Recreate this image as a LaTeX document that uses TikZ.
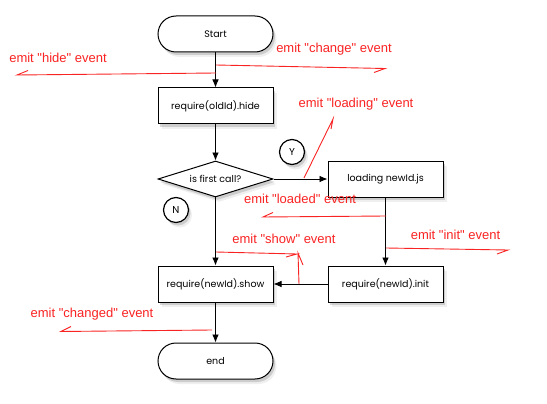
\documentclass[tikz,border=0pt]{standalone}
\usepackage{fontspec}
\setmainfont{Poppins}
\newfontfamily\notefont{Liberation Sans}
\usepackage{tikz}
\usetikzlibrary{arrows.meta,shapes.geometric,shadows}
\definecolor{notered}{RGB}{250,35,35}

\tikzset{
  box/.style={draw,line width=1pt,fill=white,minimum width=115pt,minimum height=36pt,inner sep=0pt,
    font=\fontsize{9.5}{11}\selectfont,
    drop shadow={shadow xshift=3.5pt,shadow yshift=-5pt,opacity=0.12},
    drop shadow={shadow xshift=2pt,shadow yshift=-3pt,opacity=0.3}},
  pill/.style={box,rounded corners=18pt},
  decision/.style={box,diamond,aspect=3.2},
  flag/.style={box,circle,line width=1.2pt,minimum width=0pt,minimum size=25pt,font=\fontsize{10}{11}\selectfont},
  flow/.style={-{Latex[length=8pt,width=6.5pt]},thick},
  note/.style={notered,line width=0.9pt,line join=miter},
  notelabel/.style={text=notered,font=\notefont\fontsize{13}{15}\selectfont,inner sep=0pt,text height=9pt,text depth=3pt}
}

\begin{document}
\begin{tikzpicture}[x=1pt,y=-1pt]
\useasboundingbox[fill=white] (0,0) rectangle (547,404);

% flow chart
\node[pill] (start) at (215.5,34) {Start};
\node[box] (hide) at (215.5,106) {require(oldId).hide};
\node[decision] (first) at (215.5,179) {is first call?};
\node[box] (load) at (385.5,179) {loading newId.js};
\node[box] (init) at (385.5,284) {require(newId).init};
\node[box] (show) at (215.5,284) {require(newId).show};
\node[pill] (end) at (215.5,361) {end};
\node[flag] (yes) at (292,152) {Y};
\node[flag] (no) at (176,210) {N};

\draw[flow] (start) -- (hide);
\draw[flow] (hide) -- (first);
\draw[flow] (first) -- (load);
\draw[flow] (first) -- (show);
\draw[flow] (load) -- (init);
\draw[flow] (init) -- (show);
\draw[flow] (show) -- (end);

% events
\coordinate (hide a) at (216,73);
\coordinate (hide b) at (17,75);
\coordinate (hide c) at (28,70.5);
\draw[note] (hide a) -- (hide b) -- (hide c);
\node[notelabel] (hide text) at (58,60) {emit "hide" event};

\coordinate (change a) at (216,65);
\coordinate (change b) at (385,68.5);
\coordinate (change c) at (374,72.5);
\draw[note] (change a) -- (change b) -- (change c);
\node[notelabel] (change text) at (334,50) {emit "change" event};

\coordinate (loading a) at (304,178);
\coordinate (loading b) at (333,119);
\coordinate (loading c) at (331,129);
\draw[note] (loading a) -- (loading b) -- (loading c);
\node[notelabel] (loading text) at (356,105) {emit "loading" event};

\coordinate (loaded a) at (386,216);
\coordinate (loaded b) at (263,217);
\coordinate (loaded c) at (273,212.5);
\draw[note] (loaded a) -- (loaded b) -- (loaded c);
\node[notelabel] (loaded text) at (300,201) {emit "loaded" event};

\coordinate (init a) at (386,248);
\coordinate (init b) at (508,250);
\coordinate (init c) at (497,254);
\draw[note] (init a) -- (init b) -- (init c);
\node[notelabel] (init text) at (455.5,236) {emit "init" event};

\coordinate (show a) at (216,252);
\coordinate (show b) at (297,254);
\coordinate (show c) at (286,257);
\coordinate (show d) at (299,284);
\coordinate (show e) at (298,253);
\coordinate (show f) at (303,265);
\draw[note] (show a) -- (show b) -- (show c);
\draw[note] (show d) -- (show e) -- (show f);
\node[notelabel] (show text) at (284,240) {emit "show" event};

\coordinate (changed a) at (212,330);
\coordinate (changed b) at (61,331.5);
\coordinate (changed c) at (71,326.5);
\draw[note] (changed a) -- (changed b) -- (changed c);
\node[notelabel] (changed text) at (92,314) {emit "changed" event};
\end{tikzpicture}
\end{document}
